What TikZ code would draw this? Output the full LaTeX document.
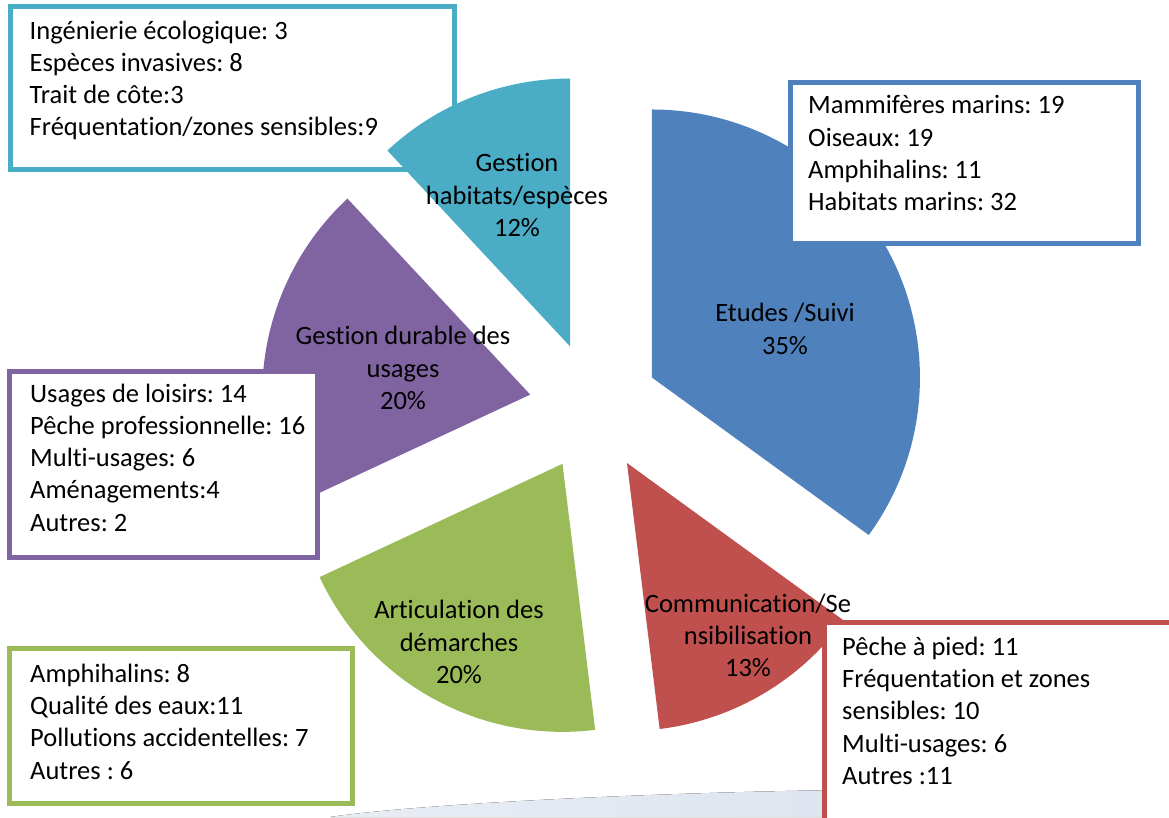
\documentclass[tikz,border=0pt]{standalone}
\usepackage{fontspec}
\setmainfont{Carlito}[Ligatures=CommonOff]
\usetikzlibrary{calc}
\frenchspacing

\definecolor{etudes}{HTML}{4F81BD}
\definecolor{comm}{HTML}{C0504D}
\definecolor{artic}{HTML}{9BBB59}
\definecolor{durable}{HTML}{8064A2}
\definecolor{habitats}{HTML}{4BACC6}
\definecolor{swoosh}{HTML}{D6DFEC}

\tikzset{
  infobox/.style={draw, line width=5pt, fill=white, outer sep=0pt, inner sep=0pt, anchor=north west},
  boxtext/.style={anchor=north west, inner sep=0pt, align=left, font=\fontsize{26.5}{32.3}\selectfont},
  slicelabel/.style={align=center, inner sep=0pt, font=\fontsize{26.5}{32.3}\selectfont},
}

\begin{document}
\begin{tikzpicture}[x=1pt, y=1pt]
  \useasboundingbox (0,0) rectangle (1169,817);
  \clip (0,0) rectangle (1169,817);

  % Faint band at the bottom
  \fill[left color=swoosh!55, right color=swoosh] (330,0) .. controls (420,13) and (640,24) .. (840,27) -- (1169,29) -- (1169,0) -- cycle;

  % Box of the cyan slice (lies behind the pie)
  \node[infobox, draw=habitats, minimum width=444pt, minimum height=163pt] (habbox) at (10.5,810.5) {};
  \node[boxtext] (habtxt) at ([shift={(19,-14)}]habbox.north west) {Ingénierie écologique: 3\\Espèces invasives: 8\\Trait de côte:3\\Fréquentation/zones sensibles:9};

  % Pie slices, pulled out from the centre
  \coordinate (C) at (594,410);
  \foreach \from/\to/\col in {-36/90/etudes, -83/-36/comm, -155/-83/artic, 133/205/durable, 90/133/habitats} {
    \pgfmathsetmacro{\midang}{(\from+\to)/2}
    \fill[\col] ($(C)+(\midang:65pt)$) -- ++(\from:268pt) arc[start angle=\from, end angle=\to, radius=268pt] -- cycle;
  }

  % Boxes in front of the pie
  \node[infobox, draw=etudes, minimum width=348pt, minimum height=161pt] (etudesbox) at (790.5,734.5) {};
  \node[boxtext] (etudestxt) at ([shift={(17.5,-13)}]etudesbox.north west) {Mammifères marins: 19\\Oiseaux: 19\\Amphihalins: 11\\Habitats marins: 32};

  \node[infobox, draw=durable, minimum width=308pt, minimum height=186pt] (durablebox) at (9.5,445.5) {};
  \node[boxtext] (durabletxt) at ([shift={(20.5,-12)}]durablebox.north west) {Usages de loisirs: 14\\Pêche professionnelle: 16\\Multi-usages: 6\\Aménagements:4\\Autres: 2};

  \node[infobox, draw=artic, minimum width=343pt, minimum height=155pt] (articbox) at (9.5,168.5) {};
  \node[boxtext] (artictxt) at ([shift={(20.5,-15)}]articbox.north west) {Amphihalins: 8\\Qualité des eaux:11\\Pollutions accidentelles: 7\\Autres : 6};

  \node[infobox, draw=comm, minimum width=380pt, minimum height=220pt] (commbox) at (824.5,194.5) {};
  \node[boxtext] (commtxt) at ([shift={(17.5,-14)}]commbox.north west) {Pêche à pied: 11\\Fréquentation et zones\\sensibles: 10\\Multi-usages: 6\\Autres :11};

  % Slice labels
  \node[slicelabel] (hablbl) at (517,622) {Gestion\\habitats/espèces\\12\%};
  \node[slicelabel] (etudeslbl) at (785,488) {Etudes /Suivi\\35\%};
  \node[slicelabel] (durablelbl) at (403,449) {Gestion durable des\\usages\\20\%};
  \node[slicelabel] (articlbl) at (459,175) {Articulation des\\démarches\\20\%};
  \node[slicelabel] (commlbl) at (748,181.5) {Communication/Se\\nsibilisation\\13\%};
\end{tikzpicture}
\end{document}
